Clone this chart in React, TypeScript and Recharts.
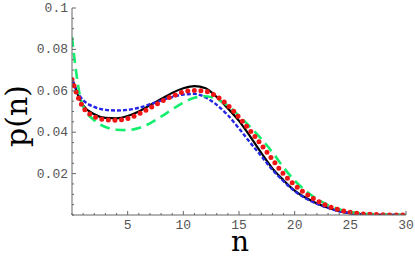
import React from "react";
import { LineChart, Line, XAxis, YAxis } from "recharts";

const N = [0, 0.3, 0.7, 1, 2, 3, 4, 5, 6, 7, 8, 9, 10, 11, 12, 13, 14, 15, 16, 17, 18, 19, 20, 21, 22, 23, 24, 25, 26, 27, 28, 29, 30];

const BLACK = [0.066, 0.0615, 0.056, 0.053, 0.0487, 0.0469, 0.0467, 0.0478, 0.05, 0.053, 0.056, 0.059, 0.0612, 0.0623, 0.0612, 0.057, 0.0515, 0.0455, 0.038, 0.03, 0.0225, 0.0168, 0.0118, 0.0083, 0.0056, 0.0035, 0.0019, 0.0009, 0.0004, 0.0002, 0.0001, 0.00003, 0];
const BLUE = [0.0655, 0.0615, 0.0575, 0.0555, 0.0522, 0.0508, 0.0505, 0.0508, 0.0518, 0.0535, 0.0553, 0.057, 0.0582, 0.0585, 0.0568, 0.0532, 0.0482, 0.0418, 0.035, 0.0285, 0.0218, 0.0163, 0.0115, 0.008, 0.0054, 0.0034, 0.0018, 0.0009, 0.0004, 0.0002, 0.0001, 0.00003, 0];
const RED = [0.0655, 0.0605, 0.055, 0.052, 0.0476, 0.046, 0.0458, 0.0466, 0.0488, 0.0517, 0.0547, 0.0574, 0.0594, 0.0602, 0.0597, 0.0573, 0.053, 0.0472, 0.0408, 0.034, 0.0268, 0.0198, 0.0145, 0.0103, 0.0069, 0.0043, 0.0025, 0.0013, 0.0006, 0.0003, 0.0001, 0.00004, 0];
const GREEN = [0.086, 0.072, 0.058, 0.0525, 0.0458, 0.0425, 0.0412, 0.041, 0.042, 0.0443, 0.0475, 0.051, 0.0543, 0.0566, 0.0574, 0.056, 0.0528, 0.048, 0.0425, 0.0368, 0.0303, 0.023, 0.0166, 0.0116, 0.0077, 0.0048, 0.0028, 0.0015, 0.0008, 0.0004, 0.0002, 0.0001, 0];

const X_TICKS = [0, 1, 2, 3, 4, 5, 6, 7, 8, 9, 10, 11, 12, 13, 14, 15, 16, 17, 18, 19, 20, 21, 22, 23, 24, 25, 26, 27, 28, 29, 30];
const X_MAJOR = [5, 10, 15, 20, 25, 30];
const Y_TICKS = [0, 0.005, 0.01, 0.015, 0.02, 0.025, 0.03, 0.035, 0.04, 0.045, 0.05, 0.055, 0.06, 0.065, 0.07, 0.075, 0.08, 0.085, 0.09, 0.095, 0.1];
const Y_MAJOR = [0.02, 0.04, 0.06, 0.08, 0.1];

const data = N.map((n, i) => ({ n, black: BLACK[i], blue: BLUE[i], red: RED[i], green: GREEN[i] }));

const FRAME = "#666";
const LABEL = "#555";
const MONO = "'Liberation Mono', 'DejaVu Sans Mono', monospace";

const isXMajor = (v: number) => X_MAJOR.some((m) => Math.abs(m - v) < 1e-9);
const isYMajor = (v: number) => Y_MAJOR.some((m) => Math.abs(m - v) < 1e-9);

const BottomTick = (props: any) => {
  const { x, y, payload } = props;
  const v = payload.value;
  const major = isXMajor(v);
  return (
    <g>
      <line x1={x} x2={x} y1={y} y2={y - (major ? 4 : 2)} stroke={FRAME} strokeWidth={1} />
      {major && (
        <text x={x} y={y + 14} textAnchor="middle" fill={LABEL} fontSize={13} fontFamily={MONO}>
          {String(v)}
        </text>
      )}
    </g>
  );
};

const TopTick = (props: any) => {
  const { x, y, payload } = props;
  const major = isXMajor(payload.value);
  return <line x1={x} x2={x} y1={y} y2={y + (major ? 4 : 2)} stroke={FRAME} strokeWidth={1} />;
};

const LeftTick = (props: any) => {
  const { x, y, payload } = props;
  const v = payload.value;
  const major = isYMajor(v);
  return (
    <g>
      <line x1={x} x2={x + (major ? 4 : 2)} y1={y} y2={y} stroke={FRAME} strokeWidth={1} />
      {major && (
        <text x={x - 4} y={y + 4} textAnchor="end" fill={LABEL} fontSize={13} fontFamily={MONO}>
          {String(v)}
        </text>
      )}
    </g>
  );
};

const RightTick = (props: any) => {
  const { x, y, payload } = props;
  const major = isYMajor(payload.value);
  return <line x1={x} x2={x - (major ? 4 : 2)} y1={y} y2={y} stroke={FRAME} strokeWidth={1} />;
};

export default function App() {
  return (
    <div style={{ position: "absolute", left: 0, top: 0, width: 415, height: 257 }}>
      <LineChart width={415} height={257} data={data} margin={{ top: 8, right: 9, left: 0, bottom: 0 }}>
        <XAxis
          dataKey="n"
          type="number"
          domain={[0, 30]}
          ticks={X_TICKS}
          interval={0}
          height={42}
          tickSize={0}
          tickMargin={0}
          axisLine={{ stroke: FRAME, strokeWidth: 1 }}
          tickLine={false}
          tick={BottomTick}
          allowDataOverflow
        />
        <XAxis
          xAxisId="top"
          orientation="top"
          dataKey="n"
          type="number"
          domain={[0, 30]}
          ticks={X_TICKS}
          interval={0}
          height={0}
          tickSize={0}
          tickMargin={0}
          axisLine={{ stroke: FRAME, strokeWidth: 1 }}
          tickLine={false}
          tick={TopTick}
          allowDataOverflow
        />
        <YAxis
          type="number"
          domain={[0, 0.1]}
          ticks={Y_TICKS}
          interval={0}
          width={72}
          tickSize={0}
          tickMargin={0}
          axisLine={{ stroke: FRAME, strokeWidth: 1 }}
          tickLine={false}
          tick={LeftTick}
          allowDataOverflow
        />
        <YAxis
          yAxisId="right"
          orientation="right"
          type="number"
          domain={[0, 0.1]}
          ticks={Y_TICKS}
          interval={0}
          width={0}
          tickSize={0}
          tickMargin={0}
          axisLine={{ stroke: FRAME, strokeWidth: 1 }}
          tickLine={false}
          tick={RightTick}
          allowDataOverflow
        />
        <Line dataKey="black" type="monotone" stroke="#000000" strokeWidth={2.2} dot={false} isAnimationActive={false} />
        <Line dataKey="blue" type="monotone" stroke="#2525e6" strokeWidth={2.4} strokeDasharray="4 2" dot={false} isAnimationActive={false} />
        <Line dataKey="green" type="monotone" stroke="#14ee6e" strokeWidth={2.6} strokeDasharray="10 6" dot={false} isAnimationActive={false} />
        <Line dataKey="red" type="monotone" stroke="#f01414" strokeWidth={5} strokeDasharray="0 6.6" strokeLinecap="round" dot={false} isAnimationActive={false} />
        <text x={240} y={251} textAnchor="middle" fontSize={28} fontFamily="'DejaVu Serif', serif" fill="#000">
          n
        </text>
        <text
          x={27}
          y={116}
          textAnchor="middle"
          fontSize={30}
          fontFamily="'DejaVu Serif', serif"
          fill="#000"
          transform="rotate(-90 27 116)"
        >
          p(n)
        </text>
      </LineChart>
    </div>
  );
}
